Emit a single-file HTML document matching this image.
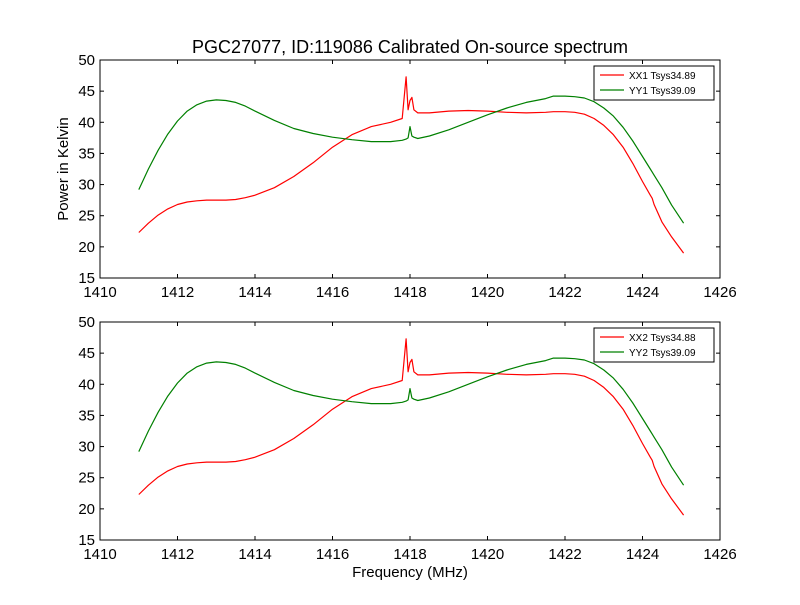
<!DOCTYPE html>
<html><head><meta charset="utf-8"><style>body{margin:0;background:#fff}svg text{font-family:"Liberation Sans","DejaVu Sans",sans-serif}</style></head>
<body>
<svg id="fig" width="800" height="600" xmlns="http://www.w3.org/2000/svg">
<rect width="800" height="600" fill="#fff"/>
<text x="410" y="53" font-size="18" text-anchor="middle">PGC27077, ID:119086 Calibrated On-source spectrum</text>
<text x="68" y="169" font-size="15" text-anchor="middle" transform="rotate(-90 68 169)">Power in Kelvin</text>
<text x="410" y="577" font-size="15" text-anchor="middle">Frequency (MHz)</text>
</svg>
<script>
const freqs=[1411,1411.25,1411.5,1411.75,1412,1412.25,1412.5,1412.75,1413,1413.25,1413.5,1413.75,1414,1414.5,1415,1415.5,1416,1416.5,1417,1417.5,1417.8,1417.9,1417.95,1418.0,1418.05,1418.1,1418.2,1418.5,1419,1419.5,1420,1420.5,1421,1421.5,1421.7,1422,1422.25,1422.5,1422.75,1423,1423.25,1423.5,1423.75,1424,1424.2,1424.25,1424.3,1424.5,1424.75,1425.06];
const xx1=[22.3,23.8,25.1,26.1,26.8,27.2,27.4,27.5,27.5,27.5,27.6,27.9,28.3,29.5,31.3,33.5,36,38,39.3,40,40.6,47.3,42,43.5,44,42,41.5,41.5,41.8,41.9,41.8,41.6,41.5,41.6,41.7,41.7,41.6,41.3,40.6,39.5,38,36,33.4,30.5,28.3,27.8,26.8,24,21.6,19];
const yy1=[29.2,32.5,35.5,38.1,40.2,41.8,42.8,43.4,43.6,43.5,43.2,42.6,41.8,40.3,39,38.2,37.6,37.2,36.9,36.9,37.1,37.3,37.5,39.3,37.8,37.6,37.4,37.8,38.8,40,41.2,42.3,43.2,43.8,44.2,44.2,44.1,43.9,43.3,42.3,41,39.2,37,34.5,32.5,32,31.5,29.5,26.7,23.8];
const xx2=xx1.slice();
const yy2=yy1.slice();
const xTicks=[1410,1412,1414,1416,1418,1420,1422,1424,1426];
const yTicks=[15,20,25,30,35,40,45,50];
const svg=document.getElementById('fig');const NS='http://www.w3.org/2000/svg';
function mk(t,a,p){const e=document.createElementNS(NS,t);for(const k in a)e.setAttribute(k,a[k]);(p||svg).appendChild(e);return e;}
function panel(top,name,ra,ga,rl,gl){
 const L=100,R=720,B=top+218;
 const xs=v=>L+(v-1410)/16*(R-L), ys=v=>B-(v-15)/35*218;
 const g=mk('g',{});
 
 
 const pts=a=>a.map((v,i)=>xs(freqs[i]).toFixed(1)+','+ys(v).toFixed(1)).join(' ');
 const r=mk('polyline',{points:pts(ra),fill:'none',stroke:'#f00','stroke-width':1.2,'stroke-linejoin':'round'},g);
 
 const gr=mk('polyline',{points:pts(ga),fill:'none',stroke:'#008000','stroke-width':1.2,'stroke-linejoin':'round'},g);
 
 const fr=mk('rect',{x:L,y:top,width:R-L,height:218,fill:'none',stroke:'#000'},g);
 
 xTicks.forEach(t=>{const x=xs(t);mk('line',{x1:x,x2:x,y1:B,y2:B-4,stroke:'#000'},g);mk('line',{x1:x,x2:x,y1:top,y2:top+4,stroke:'#000'},g);
  const tx=mk('text',{x:x,y:B+19,'font-size':15,'text-anchor':'middle'},g);tx.textContent=t;
  });
 yTicks.forEach(t=>{const y=ys(t);mk('line',{x1:L,x2:L+4,y1:y,y2:y,stroke:'#000'},g);mk('line',{x1:R,x2:R-4,y1:y,y2:y,stroke:'#000'},g);
  const tx=mk('text',{x:L-5,y:y+5,'font-size':15,'text-anchor':'end'},g);tx.textContent=t;
  });
 const lg=mk('g',{},g);
 
 mk('rect',{x:594,y:top+6,width:120,height:34,fill:'#fff',stroke:'#000'},lg);
 [[rl,'#f00',top+15],[gl,'#008000',top+30]].forEach(([s,c,y])=>{mk('line',{x1:600,x2:624,y1:y,y2:y,stroke:c,'stroke-width':1.2},lg);
  const t=mk('text',{x:629,y:y+4,'font-size':10},lg);t.textContent=s;
  });
}
panel(60,'top-panel',xx1,yy1,'XX1 Tsys34.89','YY1 Tsys39.09');
panel(322,'bottom-panel',xx2,yy2,'XX2 Tsys34.88','YY2 Tsys39.09');
</script>
</body></html>
